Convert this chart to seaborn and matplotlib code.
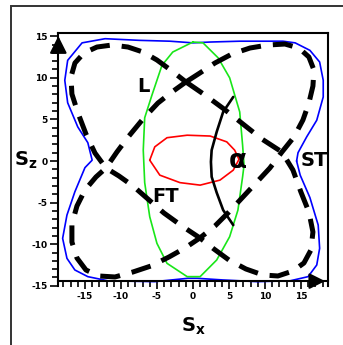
import matplotlib
matplotlib.use("Agg")
import matplotlib.pyplot as plt
from matplotlib.patches import Rectangle
from matplotlib.ticker import MultipleLocator
import seaborn as sns

# ST surface (blue)
st_x = [14.4, 14.6, 15.8, 17.2, 18.1, 18.1, 17.6, 16.25, 14.2, 12.5, 6.5, 2.4, 0.0, -3.2, -7.4, -12.2,
        -15.4, -17.4, -17.8, -17.4, -16.0, -14.6, -14.0, -15.0, -16.4, -17.5, -18.1, -17.5, -16.4,
        -14.6, -11.8, -5.3, -0.7, 0.6, 4.2, 8.9, 13.5, 16.0, 17.2, 17.6, 17.4, 16.25, 14.9, 14.4]
st_z = [0.0, 1.0, 2.9, 4.9, 7.7, 9.7, 11.9, 13.3, 14.2, 14.4, 14.4, 14.3, 14.2, 14.4, 14.5, 14.7,
        14.2, 12.1, 9.7, 7.0, 4.1, 2.2, 0.1, -0.8, -3.7, -6.5, -9.3, -11.7, -13.1,
        -13.9, -14.4, -14.5, -14.1, -14.1, -14.3, -14.5, -14.4, -13.9, -12.5, -10.5, -7.7, -4.4, -1.7, 0.0]

# L surface (green)
l_x = [0.0, 1.4, 3.5, 5.1, 6.5, 6.9, 7.1, 6.9, 6.25, 5.1, 3.3, 1.0, -0.8, -3.6, -5.0, -6.0,
       -6.7, -6.9, -6.7, -5.7, -4.3, -2.8, 0.0]
l_z = [14.3, 14.2, 12.4, 10.0, 5.9, 1.9, -0.5, -1.9, -5.9, -9.1, -11.9, -13.9, -13.9, -12.3, -9.9, -6.7,
       -2.6, 1.3, 5.2, 7.9, 11.5, 13.1, 14.3]

# FT surface (red)
ft_x = [-6.0, -5.3, -3.6, -0.8, 2.4, 4.7, 5.8, 6.4, 5.6, 3.75, 1.0, -1.8, -4.6, -6.0]
ft_z = [0.1, 1.7, 2.8, 3.1, 3.0, 2.3, 1.3, 0.2, -1.1, -2.3, -2.9, -2.6, -1.7, 0.1]

# dashed branch 1 (tips upper-left / lower-right)
d1_x = [-0.97, 1.67, 4.31, 6.94, 9.58, 12.36, 13.89, 15.0, 16.11, 16.67, 16.39, 15.42, 13.89, 11.81,
        9.72, 7.36, 5.0, 2.92, 0.97, -1.53, -4.03, -6.25, -8.33, -10.28, -12.08, -13.61, -14.86,
        -15.97, -16.81, -16.94, -16.39, -15.14, -13.33, -11.25, -9.03, -6.94, -5.0, -2.92, -0.97]
d1_z = [9.5, 7.93, 6.25, 4.45, 2.64, 1.08, -1.08, -3.73, -6.13, -8.53, -10.7, -12.26, -13.22, -13.82,
        -13.7, -12.98, -11.9, -10.58, -9.25, -7.81, -6.25, -4.57, -3.0, -1.8, -0.84, 0.96, 3.25,
        5.77, 8.05, 10.1, 11.78, 12.98, 13.7, 13.94, 13.7, 13.1, 12.14, 10.82, 9.5]

# dashed branch 2 (tips upper-right / lower-left)
d2_x = [-0.97, 0.97, 3.06, 5.42, 7.92, 10.42, 12.78, 14.72, 16.11, 16.81, 16.67, 16.11, 15.28, 14.03,
        12.36, 10.69, 8.89, 6.94, 5.0, 3.06, 0.97, -1.11, -3.33, -5.83, -8.33, -10.83, -13.06, -14.86,
        -16.11, -16.81, -16.81, -16.11, -15.0, -13.47, -12.08, -10.56, -8.89, -6.94, -4.86, -2.92, -0.97]
d2_z = [9.5, 10.58, 11.78, 12.86, 13.58, 13.94, 14.06, 13.58, 12.5, 10.94, 9.01, 6.97, 4.93, 2.88,
        1.08, -0.84, -2.52, -4.33, -6.13, -7.81, -9.25, -10.46, -11.54, -12.62, -13.34, -13.94, -13.82, -13.1,
        -11.66, -9.74, -7.57, -5.41, -3.49, -1.92, -0.84, 1.08, 3.0, 5.05, 6.97, 8.29, 9.5]

# angle arc
arc_x = [5.6, 4.2, 3.3, 2.6, 2.5, 2.6, 3.3, 4.2, 5.6]
arc_z = [7.7, 5.9, 3.5, 1.3, -0.1, -1.9, -3.8, -5.9, -7.7]

x_ticks = [-15, -10, -5, 0, 5, 10, 15]
y_ticks = [-15, -10, -5, 0, 5, 10, 15]

sns.set_theme(style="white")
plt.rcParams["font.family"] = ["DejaVu Sans"]
plt.rcParams["axes.unicode_minus"] = False
plt.rcParams["text.color"] = "black"
plt.rcParams["xtick.color"] = "black"
plt.rcParams["ytick.color"] = "black"

fig = plt.figure(figsize=(3.43, 3.45), dpi=100)
ax = fig.add_axes([0.170, 0.1716, 0.786, 0.7319])

sns.lineplot(x=st_x, y=st_z, sort=False, estimator=None, color="#0000ff", lw=1.2, ax=ax)
sns.lineplot(x=l_x, y=l_z, sort=False, estimator=None, color="#19e619", lw=1.2, ax=ax)
sns.lineplot(x=ft_x, y=ft_z, sort=False, estimator=None, color="#ff0000", lw=1.2, ax=ax)
for dx, dz in [(d1_x, d1_z), (d2_x, d2_z)]:
    sns.lineplot(x=dx, y=dz, sort=False, estimator=None, color="black", lw=3.6, ax=ax)
    ax.lines[-1].set_dashes((4.0, 2.4))
    ax.lines[-1].set_dash_capstyle("butt")
sns.lineplot(x=arc_x, y=arc_z, sort=False, estimator=None, color="black", lw=1.9, ax=ax)

ax.set_xlim(-18.7, 18.75)
ax.set_ylim(-15, 15.35)
ax.spines["bottom"].set_position(("data", -14.45))
for s in ax.spines.values():
    s.set_color("black")
    s.set_linewidth(1.5)

ax.set_xticks(x_ticks)
ax.set_yticks(y_ticks)
ax.xaxis.set_minor_locator(MultipleLocator(1))
ax.yaxis.set_minor_locator(MultipleLocator(1))
ax.tick_params(which="both", direction="out", color="black", width=1.2,
               bottom=True, left=True, top=False, right=False)
ax.tick_params(which="major", length=5.5, labelsize=6.5, pad=2, labelcolor="black")
ax.tick_params(which="minor", length=4)
for lab in ax.get_xticklabels() + ax.get_yticklabels():
    lab.set_fontweight("bold")

# axis arrows
ax.annotate("", xy=(0, 1.0), xytext=(0, 0.92), xycoords="axes fraction",
            arrowprops=dict(arrowstyle="-|>", mutation_scale=26, color="black", lw=1.5))
ax.annotate("", xy=(1.0, 0.0185), xytext=(0.92, 0.0185), xycoords="axes fraction",
            arrowprops=dict(arrowstyle="-|>", mutation_scale=24, color="black", lw=1.5))

# curve labels
ax.text(-6.9, 8.9, "L", fontsize=14, fontweight="bold", ha="center", va="center", color="black")
ax.text(-3.75, -4.3, "FT", fontsize=14, fontweight="bold", ha="center", va="center", color="black")
ax.text(16.8, 0.1, "ST", fontsize=14, fontweight="bold", ha="center", va="center", color="black")
ax.text(6.3, 0.0, "α", fontsize=19, fontweight="bold", ha="center", va="center", color="black")

fig.text(0.075, 0.535, r"$\mathbf{S_z}$", fontsize=14, ha="center", va="center", color="black")
fig.text(0.565, 0.055, r"$\mathbf{S_x}$", fontsize=14, ha="center", va="center", color="black")

fig.add_artist(Rectangle((0.032, -0.2), 1.5, 1.183, transform=fig.transFigure,
                         fill=False, edgecolor="#333333", lw=1.4))

fig.savefig("out.png", dpi=100)
